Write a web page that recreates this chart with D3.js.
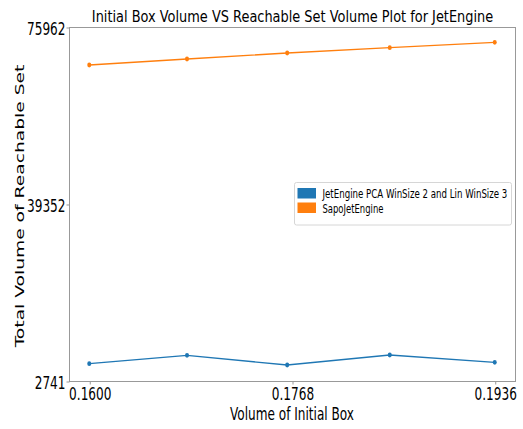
<!DOCTYPE html>
<html>
<head>
<meta charset="utf-8">
<script src="https://cdn.jsdelivr.net/npm/d3@7"></script>
<style>
  html, body { margin: 0; padding: 0; background: #fff; }
  svg { display: block; }
  text { font-family: "DejaVu Sans", sans-serif; fill: #000; }
</style>
</head>
<body>
<div id="chart"></div>
<script>
// Box volumes (side lengths 0.40 .. 0.44 squared)
const initialVolumes = [0.1600, 0.1681, 0.1764, 0.1849, 0.1936];
const pcaLinVolumes = [6319, 8056, 6050, 8118, 6608];
const sapoVolumes = [68104, 69344, 70585, 71681, 72798];
const seriesNames = ["JetEngine PCA WinSize 2 and Lin WinSize 3", "SapoJetEngine"];
const xTickValues = [0.1600, 0.1768, 0.1936];
const yTickValues = [2741, 39352, 75962];

const W = 523, H = 429;
const frame = { left: 69, right: 515, top: 27, bottom: 381 };
const squeeze = 0.7; // horizontal glyph compression
const colors = ["#1f77b4", "#ff7f0e"];

const svg = d3.select("#chart").append("svg")
  .attr("width", W).attr("height", H);

const xPad = (d3.max(initialVolumes) - d3.min(initialVolumes)) * 0.05;
const x = d3.scaleLinear()
  .domain([d3.min(initialVolumes) - xPad, d3.max(initialVolumes) + xPad])
  .range([frame.left, frame.right]);
const y = d3.scaleLinear()
  .domain([yTickValues[0], yTickValues[yTickValues.length - 1]])
  .range([frame.bottom, frame.top]);

// axes frame
svg.append("rect")
  .attr("x", frame.left + 0.5).attr("y", frame.top + 0.5)
  .attr("width", frame.right - frame.left).attr("height", frame.bottom - frame.top)
  .attr("fill", "none").attr("stroke", "#999").attr("stroke-width", 1);

// x axis
const xAxis = svg.append("g")
  .attr("transform", `translate(0.5,${frame.bottom + 0.5})`)
  .call(d3.axisBottom(x).tickValues(xTickValues).tickFormat(d3.format(".4f")).tickSize(3).tickSizeOuter(0));
xAxis.select(".domain").remove();
xAxis.selectAll(".tick line").attr("stroke", "#999");
xAxis.selectAll(".tick text")
  .attr("y", 0).attr("dy", null)
  .attr("transform", `translate(0,18) scale(${squeeze},1)`)
  .style("font-size", "17.3px");

// y axis
const yAxis = svg.append("g")
  .attr("transform", `translate(${frame.left + 0.5},0.5)`)
  .call(d3.axisLeft(y).tickValues(yTickValues).tickFormat(d3.format("d")).tickSize(3).tickSizeOuter(0));
yAxis.select(".domain").remove();
yAxis.selectAll(".tick line").attr("stroke", "#999");
yAxis.selectAll(".tick text")
  .attr("x", 0).attr("dy", null)
  .attr("transform", `translate(-4,7) scale(${squeeze},1)`)
  .attr("text-anchor", "end")
  .style("font-size", "17.3px");

// horizontal text narrowed to a given width
function narrowText(parent, str, px, tx, ty, width, anchor) {
  const t = parent.append("text")
    .attr("x", 0).attr("y", 0)
    .attr("text-anchor", anchor)
    .style("font-size", px + "px")
    .text(str);
  const natural = t.node().getComputedTextLength();
  t.attr("transform", `translate(${tx},${ty}) scale(${width / natural},1)`);
  return t;
}

narrowText(svg, "Initial Box Volume VS Reachable Set Volume Plot for JetEngine",
  16.4, 292.5, 21.7, 401.6, "middle");
narrowText(svg, "Volume of Initial Box", 17.4, 292, 419.5, 124, "middle");

svg.append("text")
  .attr("transform", `translate(24,206) scale(${squeeze},1) rotate(-90)`)
  .attr("text-anchor", "middle").style("font-size", "18.7px")
  .text("Total Volume of Reachable Set");

// series
const series = [pcaLinVolumes, sapoVolumes];
const line = d3.line().x((d, i) => x(initialVolumes[i])).y(d => y(d));
series.forEach((vals, k) => {
  svg.append("path")
    .datum(vals)
    .attr("d", line)
    .attr("fill", "none").attr("stroke", colors[k]).attr("stroke-width", 1.3);
  svg.append("g").selectAll("ellipse")
    .data(vals).join("ellipse")
    .attr("cx", (d, i) => x(initialVolumes[i]))
    .attr("cy", d => y(d))
    .attr("rx", 2.0).attr("ry", 2.4)
    .attr("fill", colors[k]);
});

// legend
const legendTextLen = [185, 61];
const lg = svg.append("g").attr("transform", "translate(294.5,182.5)");
lg.append("rect")
  .attr("width", 217).attr("height", 42.5).attr("rx", 2)
  .attr("fill", "#fff").attr("fill-opacity", 0.8)
  .attr("stroke", "#d6d6d6").attr("stroke-width", 1);
seriesNames.forEach((name, k) => {
  lg.append("rect")
    .attr("x", 3).attr("y", 5.5 + k * 14.5)
    .attr("width", 18.5).attr("height", 10.5)
    .attr("fill", colors[k]);
  narrowText(lg, name, 12.8, 28, 15 + k * 15, legendTextLen[k], "start");
});
</script>
</body>
</html>
